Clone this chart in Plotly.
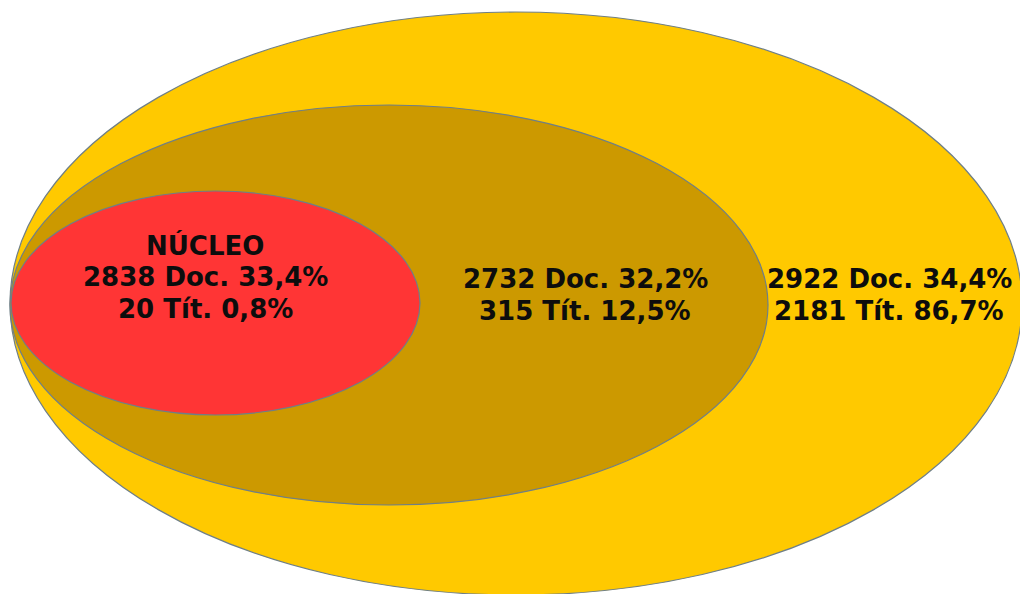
import plotly.graph_objects as go

# ---- data ----
groups = ["NÚCLEO", "Zona 2", "Zona 3"]
docs = [2838, 2732, 2922]
doc_pct = ["33,4%", "32,2%", "34,4%"]
tits = [20, 315, 2181]
tit_pct = ["0,8%", "12,5%", "86,7%"]
show_title = [True, False, False]

# ---- layout geometry (pixel space) ----
ellipses = [  # outer -> inner : x0, x1, y0, y1
    (10, 1022, 12, 595),
    (10, 768, 105, 505),
    (11, 420, 191, 415),
]
fills = ["#FFC900", "#CC9900", "#FF3535"]
label_x = [205, 585, 889]
label_last_y = [309, 311, 311]  # y of last line
line_gap = 32

fig = go.Figure()
fig.add_trace(go.Scatter(x=[0, 1020], y=[0, 594], mode="markers",
                         marker=dict(opacity=0), hoverinfo="skip", showlegend=False))

for (x0, x1, y0, y1), c in zip(ellipses, fills):
    fig.add_shape(type="circle", xref="x", yref="y", x0=x0, x1=x1, y0=y0, y1=y1,
                  fillcolor=c, line=dict(color="#6F7F86", width=1.2), layer="above")

for i in range(3):
    lines = []
    if show_title[i]:
        lines.append(groups[i])
    lines.append(f"{docs[i]} Doc. {doc_pct[i]}")
    lines.append(f"{tits[i]} Tít. {tit_pct[i]}")
    n = len(lines)
    for k, l in enumerate(lines):
        y = label_last_y[i] - (n - 1 - k) * line_gap
        fig.add_annotation(x=label_x[i], y=y, xref="x", yref="y", text=f"<b>{l}</b>",
                           showarrow=False, xanchor="center", yanchor="middle",
                           font=dict(family="DejaVu Sans", size=26, color="#0D0D0D"))

fig.update_xaxes(range=[0, 1020], visible=False, fixedrange=True)
fig.update_yaxes(range=[594, 0], visible=False, fixedrange=True)
fig.update_layout(width=1020, height=594, margin=dict(l=0, r=0, t=0, b=0),
                  paper_bgcolor="white", plot_bgcolor="white", showlegend=False)

fig.write_html("out.html", config={"displayModeBar": False})
